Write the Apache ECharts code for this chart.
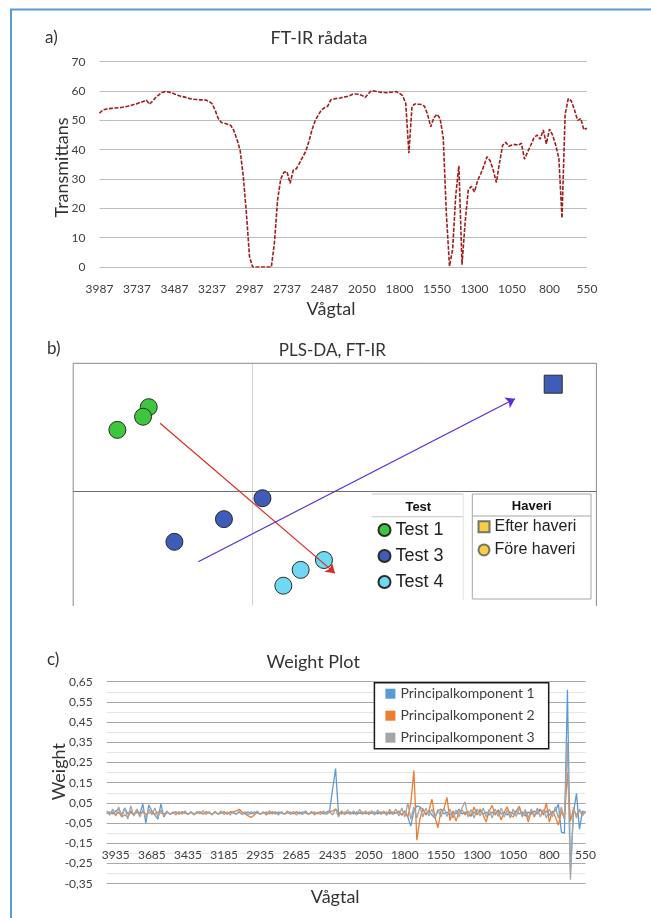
<!DOCTYPE html>
<html>
<head>
<meta charset="utf-8">
<script src="https://cdn.jsdelivr.net/npm/echarts@6/dist/echarts.min.js"></script>
<style>
html,body{margin:0;padding:0;background:#fff}
#main{width:651px;height:918px}
</style>
</head>
<body>
<div id="main"></div>
<script>
// a) FT-IR rådata
var irTicks = ['3987','3737','3487','3237','2987','2737','2487','2050','1800','1550','1300','1050','800','550'];
var irTrans = [
  52.4,53.5,53.8,54.0,54.1,54.2,54.3,54.4,54.6,54.8,55.1,55.4,55.7,56.1,56.4,56.9,55.5,56.6,57.8,58.7,
  59.5,59.8,59.7,59.4,59.0,58.6,58.2,58.0,57.7,57.4,57.2,57.1,57.0,57.0,56.9,56.5,55.7,53.5,50.6,49.3,
  49.0,48.7,48.3,46.5,43.5,39.8,31.0,18.5,3.5,0,0,0,0,0,0,0,8.5,23.0,30.0,32.3,
  32.5,28.5,33.0,33.5,35.4,37.5,39.4,42.8,46.8,49.8,51.8,53.5,54.3,54.8,57.0,57.3,57.5,57.6,57.9,58.1,
  58.4,58.9,59.0,58.9,58.5,57.8,59.0,60.1,60.0,59.8,59.6,59.5,59.4,59.6,59.7,59.8,59.2,58.4,55.8,38.8,
  54.8,55.6,55.5,55.4,54.8,52.0,47.8,50.9,52.1,50.6,44.0,18.0,0.3,6.0,24.5,34.5,0.8,15.2,26.2,27.5,
  25.6,29.5,31.8,34.5,37.6,36.2,33.0,28.8,35.5,41.5,42.5,41.2,41.6,41.8,41.5,42.2,36.8,39.2,41.5,44.0,
  45.0,43.6,46.7,42.0,47.0,45.0,41.5,37.0,16.7,52.0,57.4,56.6,53.5,50.0,50.6,46.8,47.3
];

// b) PLS-DA, FT-IR
var test1 = [[-0.347,0.283],[-0.366,0.251],[-0.452,0.207]];
var test3 = [[0.034,-0.022],[-0.095,-0.092],[-0.261,-0.168]];
var test4 = [[0.24,-0.229],[0.162,-0.262],[0.104,-0.315]];
var test3Efter = [1.008,0.36];
var arrowRed = [[-0.309,0.229],[0.277,-0.273]];
var arrowBlue = [[-0.181,-0.235],[0.88,0.311]];

// c) Weight Plot
var wTicks = ['3935','3685','3435','3185','2935','2685','2435','2050','1800','1550','1300','1050','800','550'];
var pc1 = [
  0,0.005,-0.005,0.01,0.02,-0.01,0.025,-0.005,0.01,-0.01,0.015,-0.005,0.045,-0.05,0.04,0.01,-0.01,-0.03,0.045,-0.02,
  0.005,-0.005,0,0.005,-0.005,0.005,0,-0.005,0.005,-0.005,0,0.005,-0.005,0.005,0,-0.005,0.005,-0.005,0,0.005,
  -0.005,0.005,0,-0.005,0.005,-0.005,0,0.005,-0.005,0.005,0,-0.005,0.005,-0.005,0,0.005,-0.005,0.005,0,-0.005,
  0.005,-0.005,0,0.005,-0.005,0.005,0,-0.005,0.005,-0.005,0,0.005,-0.005,0.005,0.01,0.115,0.22,-0.01,0.005,-0.005,
  0,0.005,-0.005,0.005,0,-0.005,0.005,-0.005,0,0.005,-0.005,0.005,0,-0.005,0.005,-0.005,0,0.005,-0.01,0.01,
  -0.02,-0.065,0.01,0.035,0.03,0.02,-0.005,0.01,-0.01,-0.025,0.01,0.02,-0.005,0.005,-0.01,0.005,-0.005,0.02,-0.005,0.005,
  -0.01,-0.015,0.005,-0.005,0.01,-0.005,0.005,-0.01,0.005,-0.005,0.015,-0.005,0.005,-0.01,0.005,-0.005,0.01,-0.005,0.005,-0.015,
  0.005,-0.005,0.01,-0.005,0.015,-0.005,0.01,-0.01,0.005,0.01,0.045,-0.095,-0.1,0.61,-0.29,0,0.097,-0.08,0.01,0
];
var pc2 = [
  0,-0.005,0.005,-0.01,0.005,-0.02,-0.01,-0.02,0.005,-0.01,0.005,-0.005,0.005,-0.005,0,0.005,-0.005,0.005,0,-0.005,
  0.005,-0.005,0,0.005,-0.005,0.005,0,-0.005,0.005,-0.005,0,0.005,-0.005,0.005,0,-0.005,0.005,-0.005,0,0.005,
  -0.005,0.005,0.005,0.01,0.018,0.005,-0.005,-0.015,-0.022,-0.01,0.005,-0.005,0,0.005,-0.005,0.005,0,-0.005,0.005,-0.005,
  0,0.005,-0.005,0.005,0,-0.005,0.005,-0.005,0,0.005,-0.005,0.005,0,-0.005,0.005,0.01,0.02,0.005,-0.005,0.005,
  0,-0.005,0.005,-0.005,0,0.005,-0.005,0.005,0,-0.005,0.005,-0.005,0,0.005,-0.005,0.005,0,0.01,-0.01,0.01,
  -0.02,0.05,0.21,-0.135,-0.03,0.02,-0.01,0.01,0.068,-0.02,-0.073,0.01,0.02,0.077,-0.038,0.01,-0.04,0.005,0.015,-0.01,
  0.01,-0.015,0.03,-0.01,0.02,-0.01,-0.045,0.01,0.038,-0.01,0.01,-0.035,0.005,0.03,-0.01,-0.02,0.01,0.033,-0.01,0.01,
  -0.045,0.01,-0.02,0.01,0.02,-0.01,0.05,-0.045,0.01,-0.02,-0.06,0.01,-0.03,0.2,-0.04,0.02,-0.01,0.01,-0.005,0.005
];
var pc3 = [
  0.01,-0.01,0.02,-0.015,0.03,-0.02,0.025,-0.03,0.035,-0.015,0.02,-0.02,0.015,-0.025,0.02,-0.01,0.025,-0.02,0.015,-0.015,
  0.01,-0.008,0.006,-0.01,0.008,-0.006,0.01,-0.008,0.005,-0.01,0.008,-0.005,0.012,-0.008,0.006,-0.01,0.008,-0.006,0.01,-0.008,
  0.005,-0.01,0.008,-0.006,0.01,-0.008,0.006,-0.012,0.008,-0.006,0.01,-0.008,0.005,-0.01,0.012,-0.006,0.008,-0.01,0.006,-0.008,
  0.01,-0.005,0.008,-0.01,0.006,-0.008,0.012,-0.006,0.008,-0.01,0.005,-0.008,0.01,-0.006,0.008,-0.01,0.02,-0.02,0.012,-0.008,
  0.015,-0.006,0.01,-0.01,0.018,-0.006,0.01,-0.008,0.012,-0.01,0.015,-0.006,0.01,-0.012,0.018,-0.008,0.02,-0.015,0.025,-0.02,
  0.05,-0.03,0.03,-0.025,0.03,-0.02,0.025,-0.015,0.02,-0.025,0.018,-0.02,0.025,-0.018,0.02,-0.025,0.015,-0.02,0.025,0.055,
  -0.02,0.018,-0.025,0.02,-0.015,0.025,-0.02,0.018,-0.025,0.02,-0.018,0.025,-0.02,0.015,-0.025,0.02,-0.018,0.025,-0.02,0.018,
  -0.025,0.02,-0.015,0.025,-0.02,0.018,-0.025,0.02,-0.02,0.03,-0.025,0.03,-0.03,0.35,-0.33,0.03,-0.025,0.02,-0.015,0.01
];

// kategorier mellan tickvärdena (Excel-axel med jämnt avstånd)
function buildCats(ticks, step, lead) {
  var cats = [];
  for (var j = lead; j > 0; j--) {
    cats.push(String(Math.round(+ticks[0] + (ticks[0] - ticks[1]) * j / step)));
  }
  for (var k = 0; k < ticks.length - 1; k++) {
    for (var i = 0; i < step; i++) {
      cats.push(String(Math.round(+ticks[k] + (ticks[k + 1] - ticks[k]) * i / step)));
    }
  }
  cats.push(ticks[ticks.length - 1]);
  return cats;
}
var irCats = buildCats(irTicks, 12, 0);
var wCats = buildCats(wTicks, 12, 3);

var FONT = 'Lato';
var ARIAL = 'Liberation Sans';

function txt(s, x, y, size, opt) {
  opt = opt || {};
  return {
    type: 'text', x: x, y: y, rotation: opt.rot || 0, z: 50,
    style: {
      text: s, fill: opt.color || '#333',
      font: (opt.weight || 'normal') + ' ' + size + 'px "' + (opt.family || FONT) + '"',
      align: opt.align || 'center', textAlign: opt.align || 'center',
      verticalAlign: 'middle', textVerticalAlign: 'middle'
    }
  };
}
function seg(pts, color, w) {
  return { type: 'polyline', z: 40, shape: { points: pts }, style: { stroke: color, lineWidth: w || 1, fill: null } };
}

var myChart = echarts.init(document.getElementById('main'));
var option = {
  animation: false,
  backgroundColor: '#fff',
  textStyle: { fontFamily: FONT },
  grid: [
    { left: 99.5, top: 61.7, width: 487.5, height: 205.3 },
    { left: 73.2, top: 363.3, width: 523.3, height: 241.8 },
    { left: 106.7, top: 681.7, width: 478.8, height: 202 }
  ],
  xAxis: [
    {
      gridIndex: 0, type: 'category', data: irCats, boundaryGap: false,
      axisLine: { show: false }, axisTick: { show: false },
      axisLabel: { interval: 11, margin: 16, fontSize: 12, color: '#404040' }
    },
    {
      gridIndex: 1, type: 'value', min: -0.6, max: 1.153,
      axisLine: { onZero: true, lineStyle: { color: '#6e6e6e', width: 1 } },
      axisTick: { show: false }, axisLabel: { show: false }, splitLine: { show: false }
    },
    {
      gridIndex: 2, type: 'category', data: wCats, boundaryGap: false, offset: -41,
      axisLine: { show: false, onZero: false }, axisTick: { show: false },
      axisLabel: {
        interval: function (idx) { return (idx - 3) % 12 === 0; },
        margin: 6, fontSize: 12, color: '#404040'
      }
    }
  ],
  yAxis: [
    {
      gridIndex: 0, type: 'value', min: 0, max: 70, interval: 10,
      axisLine: { show: false }, axisTick: { show: false },
      axisLabel: { margin: 14, fontSize: 12, color: '#404040' },
      splitLine: { lineStyle: { color: '#bdbdbd', width: 1 } }
    },
    {
      gridIndex: 1, type: 'value', min: -0.38, max: 0.43,
      axisLine: { onZero: true, lineStyle: { color: '#d2d2d2', width: 1 } },
      axisTick: { show: false }, axisLabel: { show: false }, splitLine: { show: false }
    },
    {
      gridIndex: 2, type: 'value', min: -0.35, max: 0.65, interval: 0.1,
      axisLine: { show: false }, axisTick: { show: false },
      axisLabel: {
        margin: 14, fontSize: 12, color: '#404040',
        formatter: function (v) { return v.toFixed(2).replace('.', ','); }
      },
      splitLine: { lineStyle: { color: '#a8a8a8', width: 1 } },
      minorTick: { show: false, splitNumber: 2 },
      minorSplitLine: { show: true, lineStyle: { color: '#e6e6e6', width: 1 } }
    }
  ],
  legend: [
    {
      data: ['Test 1', 'Test 3', 'Test 4'], orient: 'vertical', left: 377.5, top: 517,
      padding: 0, itemGap: 0, itemWidth: 12, itemHeight: 12, selectedMode: false, z: 20,
      textStyle: { fontFamily: ARIAL, fontSize: 18, lineHeight: 26, color: '#222' }
    },
    {
      data: ['Efter haveri', 'Före haveri'], orient: 'vertical', left: 477.5, top: 515,
      padding: 0, itemGap: 0, itemWidth: 11, itemHeight: 11, selectedMode: false, z: 20,
      textStyle: { fontFamily: ARIAL, fontSize: 16, lineHeight: 23.3, color: '#222' }
    },
    {
      data: ['Principalkomponent 1', 'Principalkomponent 2', 'Principalkomponent 3'],
      orient: 'vertical', left: 374.4, top: 682.7, icon: 'rect',
      padding: [0, 14, 0, 11], itemGap: 0, itemWidth: 10, itemHeight: 10, selectedMode: false, z: 20,
      backgroundColor: '#fff', borderColor: '#1a1a1a', borderWidth: 1.5,
      textStyle: { fontFamily: FONT, fontSize: 14, lineHeight: 22, color: '#404040' }
    }
  ],
  series: [
    {
      type: 'line', name: 'FT-IR', xAxisIndex: 0, yAxisIndex: 0, data: irTrans,
      showSymbol: false, symbol: 'none',
      lineStyle: { color: '#a01d1d', width: 1.6, type: [4, 1.5] }
    },
    {
      type: 'scatter', name: 'Test 1', xAxisIndex: 1, yAxisIndex: 1, data: test1, symbolSize: 17,
      itemStyle: { color: '#3fc63f', borderColor: '#2a2a2a', borderWidth: 1, opacity: 1 }, z: 3
    },
    {
      type: 'scatter', name: 'Test 3', xAxisIndex: 1, yAxisIndex: 1, symbolSize: 17,
      data: test3.concat([{ value: test3Efter, symbol: 'rect', symbolSize: 18 }]),
      itemStyle: { color: '#3f5cb8', borderColor: '#2a2a2a', borderWidth: 1, opacity: 1 }, z: 3
    },
    {
      type: 'scatter', name: 'Test 4', xAxisIndex: 1, yAxisIndex: 1, data: test4, symbolSize: 17,
      itemStyle: { color: '#6fd9f4', borderColor: '#2a2a2a', borderWidth: 1, opacity: 1 }, z: 3
    },
    {
      type: 'scatter', name: 'Efter haveri', xAxisIndex: 1, yAxisIndex: 1, data: [], symbol: 'rect',
      itemStyle: { color: '#f6c218', borderColor: '#555', borderWidth: 1 }
    },
    {
      type: 'scatter', name: 'Före haveri', xAxisIndex: 1, yAxisIndex: 1, data: [], symbol: 'circle',
      itemStyle: { color: '#f6c218', borderColor: '#555', borderWidth: 1 }
    },
    {
      type: 'lines', coordinateSystem: 'cartesian2d', xAxisIndex: 1, yAxisIndex: 1, z: 5,
      symbol: ['none', 'arrow'], symbolSize: 9,
      data: [
        { coords: arrowRed, lineStyle: { color: '#e0261e', width: 1.2, opacity: 1 } },
        { coords: arrowBlue, lineStyle: { color: '#5a2bd8', width: 1.2, opacity: 1 } }
      ]
    },
    {
      type: 'line', name: 'Principalkomponent 1', xAxisIndex: 2, yAxisIndex: 2, data: pc1,
      showSymbol: false, symbol: 'none', itemStyle: { color: '#5b9bd5' },
      lineStyle: { color: '#5b9bd5', width: 1.3 }
    },
    {
      type: 'line', name: 'Principalkomponent 2', xAxisIndex: 2, yAxisIndex: 2, data: pc2,
      showSymbol: false, symbol: 'none', itemStyle: { color: '#ed7d31' },
      lineStyle: { color: '#ed7d31', width: 1.3 }
    },
    {
      type: 'line', name: 'Principalkomponent 3', xAxisIndex: 2, yAxisIndex: 2, data: pc3,
      showSymbol: false, symbol: 'none', itemStyle: { color: '#a5a5a5' },
      lineStyle: { color: '#a5a5a5', width: 1.3 }
    }
  ],
  graphic: [
    seg([[11, 918], [11, 9.5], [651, 9.5]], '#5b9bd5', 2),
    // ram runt PLS-DA
    seg([[73.2, 606], [73.2, 363.3], [596.4, 363.3], [596.4, 606]], '#8a8a8a', 1),
    // legendrutor
    seg([[371.7, 494], [463.3, 494]], '#c6c6c6', 1),
    seg([[371.7, 516.7], [463.3, 516.7]], '#c6c6c6', 1),
    seg([[463.3, 494], [463.3, 600]], '#e4e4e4', 1),
    seg([[472.3, 494], [591, 494], [591, 599], [472.3, 599], [472.3, 494]], '#a6a6a6', 1),
    seg([[472.3, 516], [591, 516]], '#a6a6a6', 1),
    txt('Test', 418.3, 507.5, 13, { family: ARIAL, weight: 'bold', color: '#111' }),
    txt('Haveri', 531.7, 506.5, 13, { family: ARIAL, weight: 'bold', color: '#111' }),
    // rubriker
    txt('a)', 45, 37.3, 17, { align: 'left' }),
    txt('FT-IR rådata', 319, 38.5, 18),
    txt('b)', 47, 348.3, 17, { align: 'left' }),
    txt('PLS-DA, FT-IR', 332.4, 351, 17),
    txt('c)', 47, 660, 17, { align: 'left' }),
    txt('Weight Plot', 313.2, 661.7, 18),
    // axeltitlar
    txt('Transmittans', 62.2, 167.5, 18, { rot: Math.PI / 2 }),
    txt('Vågtal', 331, 309.5, 18),
    txt('Weight', 59, 771.7, 18, { rot: Math.PI / 2 }),
    txt('Vågtal', 335.2, 896.7, 18)
  ]
};
myChart.setOption(option);
</script>
</body>
</html>
